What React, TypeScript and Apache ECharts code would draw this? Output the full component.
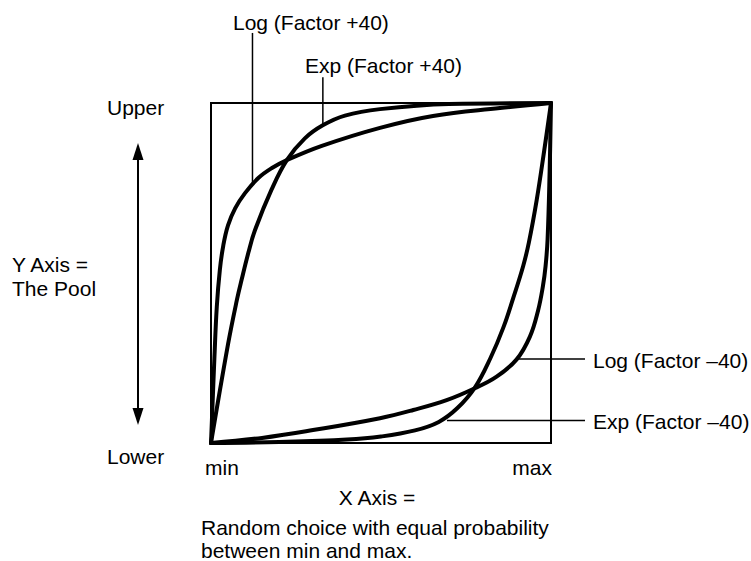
import React, { useEffect, useRef } from "react";
import * as echarts from "echarts";

// Curves, normalized: x = min..max (0..1), y = lower..upper (0..1)
const logPlus40: number[][] = [
  [0, 0], [0.004, 0.1], [0.01, 0.25], [0.017, 0.4], [0.026, 0.509], [0.036, 0.58],
  [0.05, 0.64], [0.071, 0.69], [0.1, 0.735], [0.14, 0.78], [0.178, 0.808],
  [0.223, 0.832], [0.326, 0.874], [0.497, 0.927], [0.653, 0.962], [0.85, 0.985], [1, 1],
];
const expPlus40: number[][] = [
  [0, 0], [0.05, 0.29], [0.076, 0.42], [0.09, 0.48], [0.11, 0.56], [0.129, 0.625],
  [0.178, 0.745], [0.223, 0.832], [0.276, 0.896], [0.33, 0.935], [0.394, 0.963],
  [0.497, 0.982], [0.7, 0.997], [1, 1],
];
const logMinus40: number[][] = [
  [0, 0], [0.15, 0.015], [0.3, 0.038], [0.497, 0.073], [0.595, 0.097], [0.693, 0.126],
  [0.776, 0.161], [0.84, 0.195], [0.899, 0.246], [0.938, 0.313], [0.962, 0.39],
  [0.976, 0.46], [0.984, 0.52], [0.99, 0.6], [0.996, 0.8], [1, 1],
];
const expMinus40: number[][] = [
  [0, 0], [0.2, 0.003], [0.4, 0.01], [0.5, 0.019], [0.6, 0.037], [0.67, 0.062],
  [0.724, 0.102], [0.776, 0.163], [0.822, 0.25], [0.86, 0.34], [0.89, 0.43],
  [0.918, 0.52], [0.935, 0.59], [0.958, 0.715], [0.98, 0.86], [1, 1],
];

const seriesNames = ["Log (Factor +40)", "Exp (Factor +40)", "Log (Factor \u201340)", "Exp (Factor \u201340)"];

// Leader lines in data coordinates: [x1, y1, x2, y2]
const leaders: number[][] = [
  [0.122, 1.206, 0.122, 0.76],
  [0.329, 1.076, 0.329, 0.935],
  [0.9, 0.247, 1.1, 0.247],
  [0.694, 0.066, 1.1, 0.066],
];

const FONT = '21px "Liberation Sans", Arial, Helvetica, sans-serif';

export default function App() {
  const ref = useRef<HTMLDivElement>(null);
  useEffect(() => {
    if (!ref.current) return;
    const chart = echarts.init(ref.current, null, { renderer: "svg" });
    const mk = (name: string, data: number[][]) => ({
      name,
      type: "line",
      data,
      smooth: 0.4,
      symbol: "none",
      clip: false,
      lineStyle: { color: "#000", width: 4, cap: "round", join: "round" },
      z: 3,
    });
    chart.setOption({
      animation: false,
      backgroundColor: "#fff",
      grid: {
        left: 211, top: 103, width: 340, height: 340,
        show: true, borderColor: "#000", borderWidth: 2, backgroundColor: "transparent",
      },
      xAxis: { type: "value", min: 0, max: 1, show: false },
      yAxis: { type: "value", min: 0, max: 1, show: false },
      series: [
        mk(seriesNames[0], logPlus40),
        mk(seriesNames[1], expPlus40),
        mk(seriesNames[2], logMinus40),
        mk(seriesNames[3], expMinus40),
      ],
    });
    const px = (p: number[]) => chart.convertToPixel({ gridIndex: 0 }, p) as number[];
    const lines = leaders.map((l) => {
      const a = px([l[0], l[1]]);
      const b = px([l[2], l[3]]);
      return {
        type: "line",
        shape: { x1: a[0], y1: a[1], x2: b[0], y2: b[1] },
        style: { stroke: "#000", lineWidth: 1.5 },
        z: 2,
      };
    });
    const txt = (text: string, x: number, y: number, align = "left") => ({
      type: "text",
      x, y,
      style: {
        text, font: FONT, fill: "#000", textAlign: align,
        textVerticalAlign: "middle", lineHeight: 20,
      },
    });
    const graphic: any[] = [
      ...lines,
      txt(seriesNames[0], 233, 22),
      txt(seriesNames[1], 305, 65),
      txt(seriesNames[2], 593, 360),
      txt(seriesNames[3], 593, 421),
      txt("Upper", 107, 107),
      txt("Lower", 107, 456),
      txt("Y Axis =", 12, 264),
      txt("The Pool", 12, 288),
      txt("min", 205, 467),
      txt("max", 552, 467, "right"),
      txt("X Axis =", 377, 497, "center"),
      txt("Random choice with equal probability", 201, 527),
      txt("between min and max.", 201, 550),
      {
        type: "line",
        shape: { x1: 138, y1: 155, x2: 138, y2: 413 },
        style: { stroke: "#000", lineWidth: 2 },
      },
      {
        type: "polygon",
        shape: { points: [[138, 143], [132.5, 160], [143.5, 160]] },
        style: { fill: "#000" },
      },
      {
        type: "polygon",
        shape: { points: [[138, 425], [132.5, 408], [143.5, 408]] },
        style: { fill: "#000" },
      },
    ];
    chart.setOption({ graphic });
    return () => chart.dispose();
  }, []);
  return (
    <div
      ref={ref}
      style={{ position: "fixed", left: 0, top: 0, width: 751, height: 561 }}
    />
  );
}
